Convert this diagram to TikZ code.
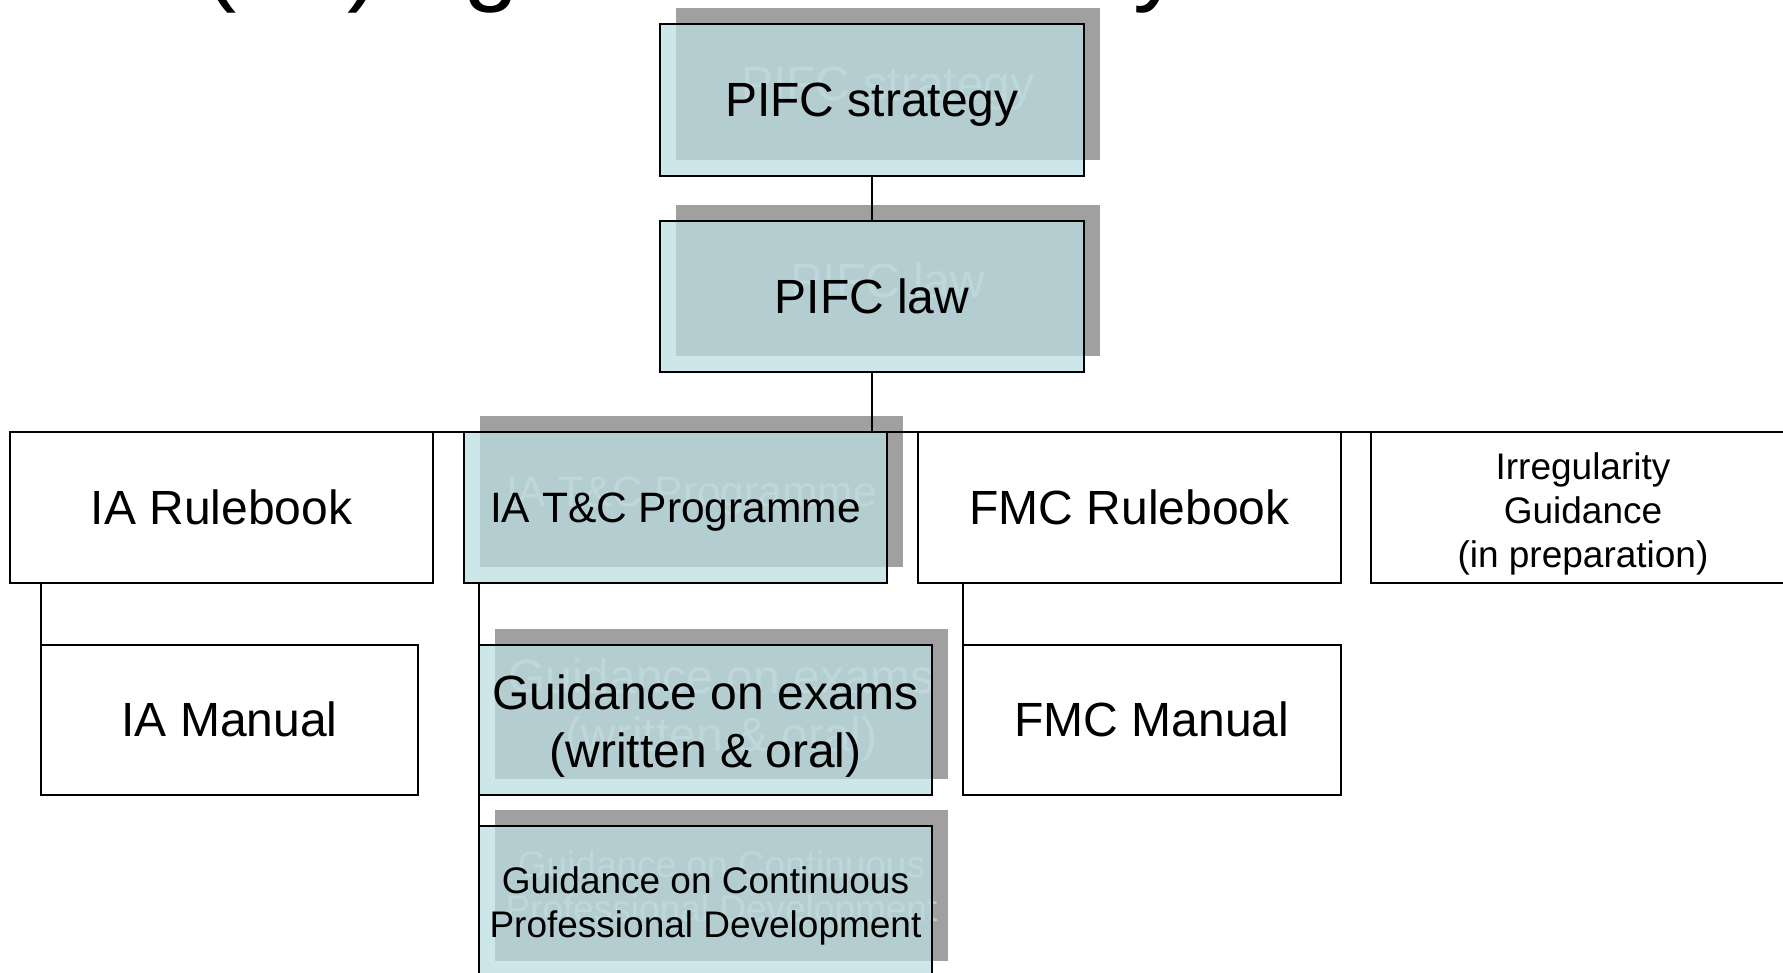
\documentclass[tikz,border=0pt]{standalone}
\usepackage{fontspec}
\setmainfont{Liberation Sans}
\definecolor{shadowgray}{RGB}{160,160,160}
\definecolor{ghost}{RGB}{200,200,200}
\definecolor{tealfill}{RGB}{187,221,225}
\begin{document}
\begin{tikzpicture}[x=1pt,y=-1pt,
  every node/.style={inner sep=0pt,outer sep=0pt,align=center},
  boxline/.style={draw=black,line width=2pt},
  plainbox/.style={boxline,fill=white},
  tealbox/.style={boxline,fill=tealfill,fill opacity=0.74,text opacity=1},
  shadowbox/.style={fill=shadowgray,xshift=16pt,yshift=16pt},
  ghosttext/.style={text=ghost},
  conn/.style={draw=black,line width=1.6pt},
  bigfont/.style={font=\fontsize{48}{58}\selectfont},
  bigone/.style={bigfont,text height=43.4pt,text depth=10.2pt},
  midone/.style={font=\fontsize{42.5}{50}\selectfont,text height=38.5pt,text depth=9pt},
  smallfont/.style={font=\fontsize{37}{44}\selectfont},
  titlefont/.style={font=\fontsize{100}{120}\selectfont,anchor=base west},
]
\useasboundingbox (0,0) rectangle (1783,972);
\clip (0,0) rectangle (1783,972);

% cut-off title glyphs
\node[titlefont] (t1) at (203,-8) {(};
\node[titlefont] (t2) at (347,-8) {)};
\node[titlefont] (t3) at (463,-8) {g};
\node[titlefont] (t4) at (1133,-8) {y};

% shadows with ghost text
\node[shadowbox,minimum width=424pt,minimum height=152pt] (strat-sh) at (872,100) {};
\node[ghosttext,bigone] (strat-gh) at (strat-sh) {PIFC strategy};
\node[shadowbox,minimum width=424pt,minimum height=151pt] (law-sh) at (872,296.5) {};
\node[ghosttext,bigone] (law-gh) at (law-sh) {PIFC law};
\node[shadowbox,minimum width=423pt,minimum height=151pt] (tc-sh) at (675.5,507.5) {};
\node[ghosttext,midone] (tc-gh) at (tc-sh) {IA T\&C Programme};
\node[shadowbox,minimum width=453pt,minimum height=150pt] (exams-sh) at (705.5,720) {};
\node[ghosttext,bigfont,yshift=-6pt] (exams-gh) at (exams-sh) {Guidance on exams\\(written \& oral)};
\node[shadowbox,minimum width=453pt,minimum height=151pt] (cpd-sh) at (705.5,901.5) {};
\node[ghosttext,smallfont,yshift=-4pt] (cpd-gh) at (cpd-sh) {Guidance on Continuous\\Professional Development};

% boxes
\node[tealbox,bigone,minimum width=424pt,minimum height=152pt] (strat) at (872,100) {PIFC strategy};
\node[tealbox,bigone,minimum width=424pt,minimum height=151pt] (law) at (872,296.5) {PIFC law};
\node[plainbox,bigone,minimum width=423pt,minimum height=151pt] (iarule) at (221.5,507.5) {IA Rulebook};
\node[tealbox,midone,minimum width=423pt,minimum height=151pt] (tc) at (675.5,507.5) {IA T\&C Programme};
\node[plainbox,bigone,minimum width=423pt,minimum height=151pt] (fmcrule) at (1129.5,507.5) {FMC Rulebook};
\node[plainbox,minimum width=424pt,minimum height=151pt] (irr) at (1583,507.5) {};
\node[smallfont,yshift=-6pt] (irr-text) at (irr.center) {Irregularity\\Guidance\\(in preparation)};
\node[plainbox,bigone,minimum width=377pt,minimum height=150pt] (iaman) at (229.5,720) {IA Manual};
\node[tealbox,minimum width=453pt,minimum height=150pt] (exams) at (705.5,720) {};
\node[bigfont,yshift=-6pt] (exams-text) at (exams.center) {Guidance on exams\\(written \& oral)};
\node[plainbox,bigone,minimum width=378pt,minimum height=150pt] (fmcman) at (1152,720) {FMC Manual};
\node[tealbox,minimum width=453pt,minimum height=151pt] (cpd) at (705.5,901.5) {};
\node[smallfont,yshift=-4pt] (cpd-text) at (cpd.center) {Guidance on Continuous\\Professional Development};

% connectors
\draw[conn] (strat.south) -- (law.north);
\draw[conn] (law.south) |- (iarule.north);
\draw[conn] (law.south) |- (tc.north);
\draw[conn] (law.south) |- (fmcrule.north);
\draw[conn] (law.south) |- (irr.north);
\draw[conn] (iaman.west |- iarule.south) -- (iaman.west);
\draw[conn] (exams.west |- tc.south) -- (exams.west) -- (cpd.west);
\draw[conn] (fmcman.west |- fmcrule.south) -- (fmcman.west);
\end{tikzpicture}
\end{document}
